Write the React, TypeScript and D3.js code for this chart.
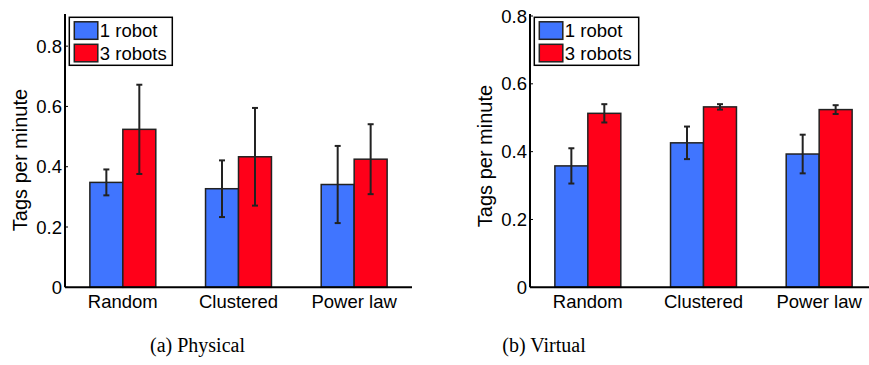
import React from 'react';
import * as d3 from 'd3';

const categories = ['Random', 'Clustered', 'Power law'];
const seriesNames = ['1 robot', '3 robots'];

const physicalOne = [0.348, 0.327, 0.341];
const physicalOneErr = [0.043, 0.094, 0.128];
const physicalThree = [0.524, 0.433, 0.425];
const physicalThreeErr = [0.148, 0.162, 0.116];

const virtualOne = [0.358, 0.426, 0.393];
const virtualOneErr = [0.052, 0.048, 0.057];
const virtualThree = [0.513, 0.532, 0.524];
const virtualThreeErr = [0.027, 0.008, 0.013];

const physicalTicks = [0, 0.2, 0.4, 0.6, 0.8];
const virtualTicks = [0, 0.2, 0.4, 0.6, 0.8];

const colors = ['#4075ff', '#ff0019'];
const edge = '#222';
const sans = 'Arial, "Liberation Sans", Helvetica, sans-serif';

type PanelProps = {
  left: number;
  yMax: number;
  yTop: number;
  ticks: number[];
  one: number[];
  oneErr: number[];
  three: number[];
  threeErr: number[];
  legendW: number;
  titleY: number;
  caption: string;
  captionX: number;
};

function Panel(p: PanelProps) {
  const bottom = 287.3;
  const x = d3.scaleLinear().domain([0.5, 3.5]).range([p.left, p.left + 347]);
  const y = d3.scaleLinear().domain([0, p.yMax]).range([bottom, p.yTop]);
  const bw = 0.285;
  const series = [
    { vals: p.one, errs: p.oneErr },
    { vals: p.three, errs: p.threeErr },
  ];
  const lx = p.left + 4.3;
  const ly = 17.3;

  return (
    <g>
      {series.map((s, si) =>
        s.vals.map((v, i) => {
          const x0 = x(i + 1 + (si === 0 ? -bw : 0));
          const x1 = x(i + 1 + (si === 0 ? 0 : bw));
          return (
            <rect
              key={`b${si}-${i}`}
              x={x0}
              y={y(v)}
              width={x1 - x0}
              height={bottom - y(v)}
              fill={colors[si]}
              stroke={edge}
              strokeWidth={1.5}
            />
          );
        })
      )}
      {series.map((s, si) =>
        s.vals.map((v, i) => {
          const cx = x(i + 1 + (si === 0 ? -bw / 2 : bw / 2));
          const hi = y(v + s.errs[i]);
          const lo = y(v - s.errs[i]);
          return (
            <g key={`e${si}-${i}`} stroke={edge} strokeWidth={2}>
              <line x1={cx} x2={cx} y1={hi} y2={lo} />
              <line x1={cx - 3} x2={cx + 3} y1={hi} y2={hi} />
              <line x1={cx - 3} x2={cx + 3} y1={lo} y2={lo} />
            </g>
          );
        })
      )}
      <line x1={p.left} x2={p.left} y1={p.yTop - 2} y2={bottom} stroke="#000" strokeWidth={2} />
      <line x1={p.left} x2={p.left + 347} y1={bottom} y2={bottom} stroke="#000" strokeWidth={2} />
      {p.ticks.map((t) => (
        <g key={`t${t}`}>
          <line x1={p.left} x2={p.left + 3} y1={y(t)} y2={y(t)} stroke="#000" strokeWidth={1} />
          <text
            x={p.left - 3}
            y={y(t)}
            textAnchor="end"
            dominantBaseline="central"
            fontFamily={sans}
            fontSize={18.5}
            fill="#000"
          >
            {t === 0 ? '0' : t.toFixed(1)}
          </text>
        </g>
      ))}
      {categories.map((c, i) => (
        <text
          key={c}
          x={x(i + 1)}
          y={308}
          textAnchor="middle"
          fontFamily={sans}
          fontSize={18.5}
          fill="#000"
        >
          {c}
        </text>
      ))}
      <text
        transform={`translate(${p.left - 38},${p.titleY}) rotate(-90)`}
        textAnchor="middle"
        fontFamily={sans}
        fontSize={20}
        fill="#000"
      >
        Tags per minute
      </text>
      <rect x={lx} y={ly} width={p.legendW} height={48} fill="#fff" stroke="#000" strokeWidth={1.5} />
      {seriesNames.map((n, si) => (
        <g key={n}>
          <rect
            x={lx + 5}
            y={ly + 4.5 + si * 22.5}
            width={23.5}
            height={17.5}
            fill={colors[si]}
            stroke={edge}
            strokeWidth={1.5}
          />
          <text x={lx + 30.5} y={ly + 19.5 + si * 23.3} fontFamily={sans} fontSize={18.5} fill="#000">
            {n}
          </text>
        </g>
      ))}
      <text
        x={p.captionX}
        y={352}
        textAnchor="middle"
        fontFamily='"Liberation Serif", "Times New Roman", serif'
        fontSize={20}
        fill="#000"
      >
        {p.caption}
      </text>
    </g>
  );
}

export default function App() {
  return (
    <svg
      width={869}
      height={365}
      style={{ position: 'absolute', left: 0, top: 0, background: '#fff' }}
    >
      <Panel
        left={65}
        yMax={0.9}
        yTop={16}
        ticks={physicalTicks}
        one={physicalOne}
        oneErr={physicalOneErr}
        three={physicalThree}
        threeErr={physicalThreeErr}
        legendW={103}
        titleY={160}
        caption="(a) Physical"
        captionX={197.5}
      />
      <Panel
        left={530}
        yMax={0.8}
        yTop={16}
        ticks={virtualTicks}
        one={virtualOne}
        oneErr={virtualOneErr}
        three={virtualThree}
        threeErr={virtualThreeErr}
        legendW={104.4}
        titleY={156}
        caption="(b) Virtual"
        captionX={544}
      />
    </svg>
  );
}
